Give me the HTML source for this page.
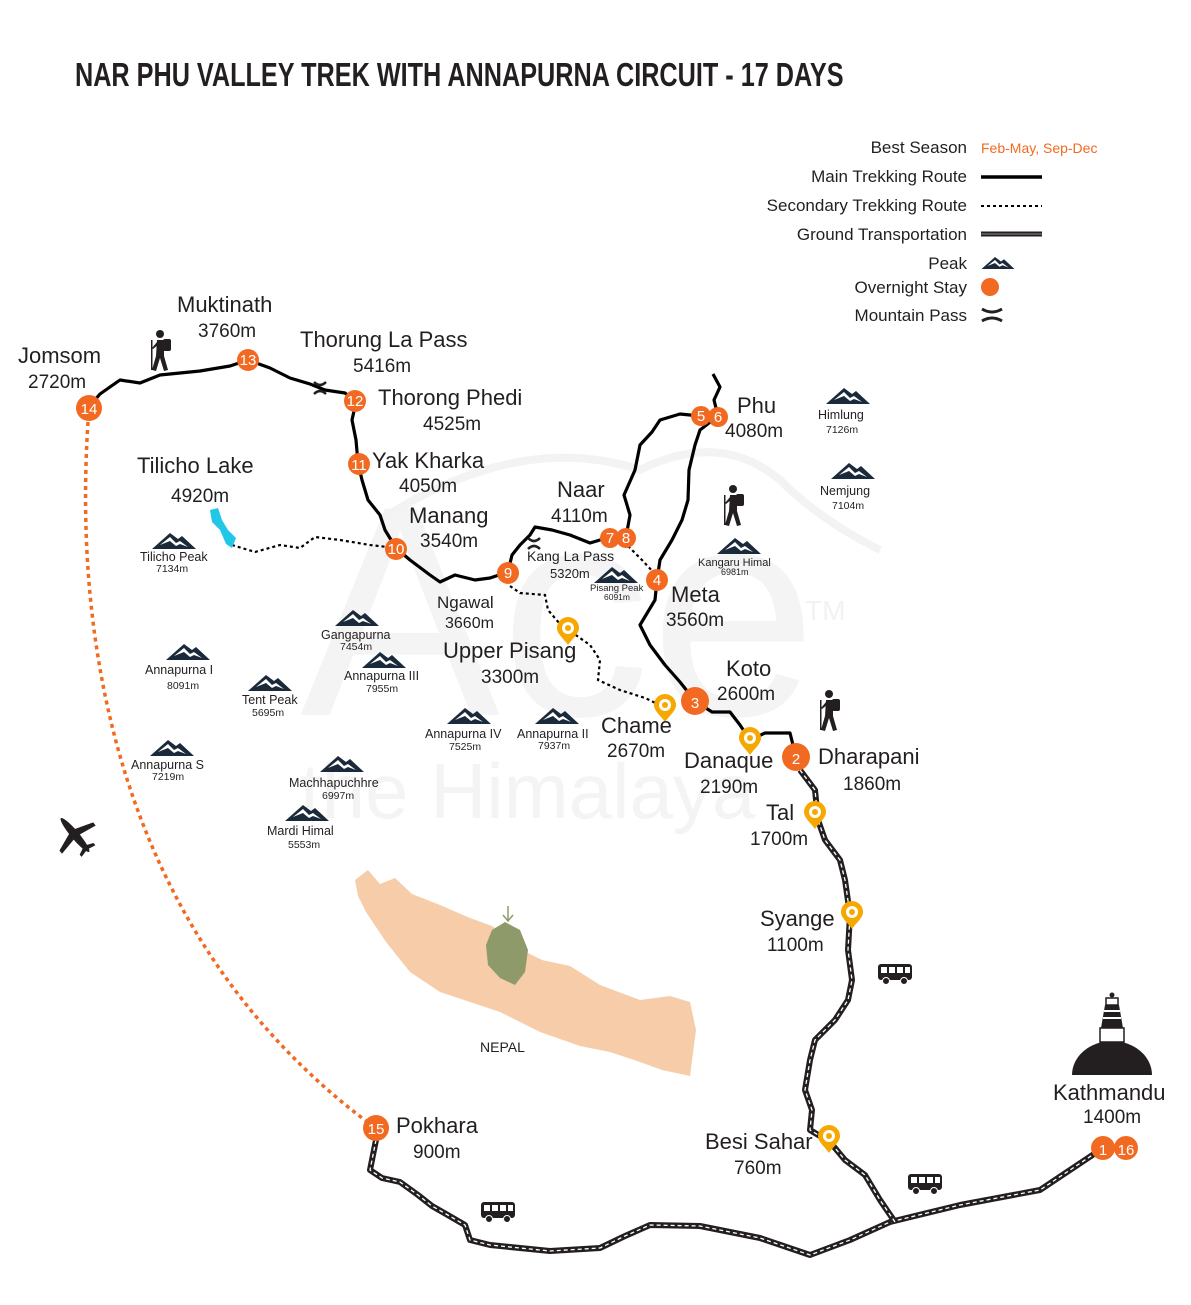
<!DOCTYPE html>
<html><head><meta charset="utf-8"><style>
html,body{margin:0;padding:0;background:#fff;}
svg{display:block;font-family:"Liberation Sans",sans-serif;}
.n{font-size:22px;fill:#231f20;}
.e{font-size:19px;fill:#231f20;}
.pk{font-size:12.5px;fill:#231f20;}
.pe{font-size:10.5px;fill:#231f20;}
.lg{font-size:17px;fill:#231f20;text-anchor:end;}
.mk{font-size:15px;fill:#fff;text-anchor:middle;}
</style></head><body>
<svg width="1191" height="1305" viewBox="0 0 1191 1305" xmlns="http://www.w3.org/2000/svg">
<defs>
<g id="peak"><path d="M-22,8 L-4,-8 L4,-2 L8,-5 L22,8 Z" fill="#1b2a3a"/><path d="M-14,4 L-4,-4 L2,2 L6,0 L14,6 L6,3 L2,5 L-4,0 Z" fill="#fff"/></g>
<g id="bus"><rect x="-17" y="-10" width="34" height="16" rx="3" fill="#231f20"/><rect x="-14" y="-7" width="6" height="6" fill="#fff"/><rect x="-6" y="-7" width="6" height="6" fill="#fff"/><rect x="2" y="-7" width="6" height="6" fill="#fff"/><rect x="10" y="-7" width="5" height="6" fill="#fff"/><circle cx="-9" cy="7" r="3.5" fill="#231f20" stroke="#fff" stroke-width="1"/><circle cx="9" cy="7" r="3.5" fill="#231f20" stroke="#fff" stroke-width="1"/></g>
<g id="hiker" fill="#231f20"><circle cx="0" cy="-16" r="4"/><rect x="3" y="-11" width="8" height="12" rx="2"/><path d="M-3,-10 L4,-10 L4,6 L8,20 L4,21 L0,8 L-4,21 L-8,20 L-4,6 Z"/><rect x="-9" y="-10" width="1.5" height="30"/><path d="M-3,-8 L-8,-2 L-7,-1 L-2,-5Z"/></g>
<g id="pin"><path d="M0,12 C-4,6 -11,1 -11,-5 A11,11 0 0 1 11,-5 C11,1 4,6 0,12Z" fill="#f6a800"/><circle cx="0" cy="-5" r="6" fill="#fff"/><circle cx="0" cy="-5" r="3" fill="#f6a800"/></g>
</defs>

<!-- watermark -->
<text x="300" y="715" font-size="300" fill="#f4f4f4" font-family="Liberation Sans,sans-serif">Ace</text>
<text x="300" y="818" font-size="78" fill="#f4f4f4">the Himalaya</text>
<text x="805" y="620" font-size="28" fill="#f2f2f2">TM</text>
<path d="M380,520 Q520,430 640,470 Q720,430 780,480 Q820,520 880,550" fill="none" stroke="#f3f3f3" stroke-width="8"/>

<!-- title -->
<text x="75" y="86" font-size="33" font-weight="bold" fill="#231f20" transform="translate(75,0) scale(0.765,1) translate(-75,0)">NAR PHU VALLEY TREK WITH ANNAPURNA CIRCUIT - 17 DAYS</text>

<!-- legend -->
<text class="lg" x="967" y="153">Best Season</text>
<text x="981" y="153" font-size="14" fill="#f26a21">Feb-May, Sep-Dec</text>
<text class="lg" x="967" y="182">Main Trekking Route</text>
<line x1="981" y1="177" x2="1042" y2="177" stroke="#000" stroke-width="3.5"/>
<text class="lg" x="967" y="211">Secondary Trekking Route</text>
<line x1="981" y1="206" x2="1042" y2="206" stroke="#000" stroke-width="2" stroke-dasharray="3,3"/>
<text class="lg" x="967" y="240">Ground Transportation</text>
<line x1="981" y1="234" x2="1042" y2="234" stroke="#231f20" stroke-width="5"/>
<line x1="981" y1="234" x2="1042" y2="234" stroke="#888" stroke-width="1"/>
<text class="lg" x="967" y="269">Peak</text>
<use href="#peak" x="998" y="263" transform="translate(998,263) scale(0.75) translate(-998,-263)"/>
<text class="lg" x="967" y="293">Overnight Stay</text>
<circle cx="990" cy="287" r="9" fill="#f26a21"/>
<text class="lg" x="967" y="321">Mountain Pass</text>
<path d="M982,309 Q992,315 1002,309 M982,321 Q992,315 1002,321" stroke="#231f20" stroke-width="3" fill="none"/>

<!-- Nepal map -->
<path d="M355,880 L368,870 L380,884 L395,878 L412,894 L440,905 L470,918 L492,926 L505,935 L522,950 L542,960 L570,966 L600,985 L640,1000 L670,996 L690,1002 L696,1030 L690,1076 L662,1070 L640,1062 L610,1052 L580,1046 L540,1032 L500,1012 L470,1002 L440,992 L410,972 L386,942 L366,912 L358,896 Z" fill="#f6cda8"/>
<path d="M492,930 L505,922 L520,930 L528,950 L525,972 L515,985 L500,978 L488,965 L486,945 Z" fill="#8f9a6a"/>
<path d="M508,906 L508,920 M503,915 L508,921 L513,915" stroke="#8f9a6a" stroke-width="1.5" fill="none"/>
<text x="480" y="1052" font-size="14" fill="#231f20">NEPAL</text>

<!-- flight path -->
<path d="M88,422 C70,700 150,960 370,1124" fill="none" stroke="#f26a21" stroke-width="3.5" stroke-dasharray="4,4"/>

<!-- roads -->
<g fill="none" stroke-linejoin="round">
<path d="M376,1140 L372,1160 L370,1170 L382,1178 L400,1182 L418,1195 L432,1206 L446,1214 L465,1225 L470,1240 L490,1245 L550,1251 L600,1248 L625,1236 L650,1225 L700,1226 L760,1238 L810,1255 L850,1240 L890,1222 L960,1205 L1040,1190 L1070,1170 L1100,1150" stroke="#231f20" stroke-width="6"/>
<path d="M376,1140 L372,1160 L370,1170 L382,1178 L400,1182 L418,1195 L432,1206 L446,1214 L465,1225 L470,1240 L490,1245 L550,1251 L600,1248 L625,1236 L650,1225 L700,1226 L760,1238 L810,1255 L850,1240 L890,1222 L960,1205 L1040,1190 L1070,1170 L1100,1150" stroke="#fff" stroke-width="1.3" stroke-dasharray="4,3"/>
<path d="M800,770 L815,790 L818,820 L825,840 L840,860 L845,880 L850,915 L848,950 L852,980 L848,1000 L835,1020 L815,1040 L810,1060 L805,1090 L812,1110 L810,1130 L830,1142 L845,1160 L865,1175 L880,1200 L895,1222" stroke="#231f20" stroke-width="6"/>
<path d="M800,770 L815,790 L818,820 L825,840 L840,860 L845,880 L850,915 L848,950 L852,980 L848,1000 L835,1020 L815,1040 L810,1060 L805,1090 L812,1110 L810,1130 L830,1142 L845,1160 L865,1175 L880,1200 L895,1222" stroke="#fff" stroke-width="1.3" stroke-dasharray="4,3"/>
</g>

<!-- secondary -->
<g fill="none" stroke="#000" stroke-width="2.2" stroke-dasharray="3,3">
<path d="M232,545 L255,552 L280,545 L300,548 L315,537 L340,540 L370,545 L396,548"/>
<path d="M628,546 L642,560 L655,574"/>
<path d="M510,586 L520,593 L545,595 L548,610 L560,624 L590,645 L600,660 L598,680 L620,690 L645,698 L662,706"/>
</g>

<!-- main route -->
<g fill="none" stroke="#000" stroke-width="3.2" stroke-linejoin="round">
<path d="M88,408 L100,394 L120,380 L140,383 L160,375 L200,371 L230,366 L248,360 L270,368 L290,378 L310,384 L325,390 L345,393 L356,402 L352,420 L356,440 L358,463 L362,480 L368,500 L380,515 L385,530 L396,548 L410,560 L430,575 L440,582 L455,575 L475,580 L490,578 L508,572 L512,555 L520,545 L530,535 L535,527 L552,530 L570,535 L590,543 L610,537 L626,537 L630,515 L624,495 L635,470 L640,445 L652,432 L660,420 L680,414 L700,416"/>
<path d="M718,416 L714,400 L720,387 L713,374"/>
<path d="M657,580 L660,560 L672,540 L682,520 L688,500 L689,470 L695,445 L700,430 L718,416"/>
<path d="M657,580 L655,600 L640,625 L650,645 L665,665 L680,682 L695,701 L712,712 L730,712 L740,725 L750,740 L765,733 L790,733 L796,757"/>
</g>

<!-- Tilicho lake -->
<path d="M210,510 L218,508 L222,520 L228,530 L236,538 L232,548 L226,544 L220,530 L212,522 Z" fill="#22c7e8"/>

<!-- passes -->
<path d="M314,382 Q320,388 326,382 M314,394 Q320,388 326,394" stroke="#231f20" stroke-width="2.5" fill="none"/>
<path d="M528,538 Q534,544 540,538 M528,549 Q534,543 540,549" stroke="#231f20" stroke-width="2.5" fill="none"/>

<!-- peaks -->
<use href="#peak" x="174" y="541"/>
<use href="#peak" x="357" y="618"/>
<use href="#peak" x="188" y="652"/>
<use href="#peak" x="384" y="660"/>
<use href="#peak" x="270" y="683"/>
<use href="#peak" x="469" y="716"/>
<use href="#peak" x="557" y="716"/>
<use href="#peak" x="172" y="748"/>
<use href="#peak" x="342" y="764"/>
<use href="#peak" x="307" y="813"/>
<use href="#peak" x="616" y="575"/>
<use href="#peak" x="739" y="546"/>
<use href="#peak" x="848" y="396"/>
<use href="#peak" x="853" y="471"/>

<text class="pk" x="140" y="561">Tilicho Peak</text><text class="pe" x="156" y="572">7134m</text>
<text class="pk" x="321" y="639">Gangapurna</text><text class="pe" x="340" y="650">7454m</text>
<text class="pk" x="145" y="674">Annapurna I</text><text class="pe" x="167" y="689">8091m</text>
<text class="pk" x="344" y="680">Annapurna III</text><text class="pe" x="366" y="692">7955m</text>
<text class="pk" x="242" y="704">Tent Peak</text><text class="pe" x="252" y="716">5695m</text>
<text class="pk" x="425" y="738">Annapurna IV</text><text class="pe" x="449" y="750">7525m</text>
<text class="pk" x="517" y="738">Annapurna II</text><text class="pe" x="538" y="749">7937m</text>
<text class="pk" x="131" y="769">Annapurna S</text><text class="pe" x="152" y="780">7219m</text>
<text class="pk" x="289" y="787">Machhapuchhre</text><text class="pe" x="322" y="799">6997m</text>
<text class="pk" x="267" y="835">Mardi Himal</text><text class="pe" x="288" y="848">5553m</text>
<text x="590" y="591" font-size="9.5" fill="#231f20">Pisang Peak</text><text x="604" y="600" font-size="8.5" fill="#231f20">6091m</text>
<text x="698" y="566" font-size="11" fill="#231f20">Kangaru Himal</text><text x="721" y="575" font-size="9" fill="#231f20">6981m</text>
<text class="pk" x="818" y="419">Himlung</text><text class="pe" x="826" y="433">7126m</text>
<text class="pk" x="820" y="495">Nemjung</text><text class="pe" x="832" y="509">7104m</text>

<!-- hikers, bus, plane, stupa -->
<use href="#hiker" x="160" y="350"/>
<use href="#hiker" x="733" y="505"/>
<use href="#hiker" x="829" y="710"/>
<use href="#bus" x="895" y="974"/>
<use href="#bus" x="925" y="1184"/>
<use href="#bus" x="498" y="1212"/>
<g transform="translate(75,835) rotate(-40)" fill="#231f20"><ellipse cx="0" cy="0" rx="4" ry="22"/><path d="M-22,2 L0,-6 L22,2 L22,6 L0,2 L-22,6Z"/><path d="M-9,18 L0,14 L9,18 L9,21 L0,19 L-9,21Z"/></g>
<g fill="#231f20">
<path d="M1072,1075 A40,34 0 0 1 1152,1075 Z"/>
<rect x="1100" y="1028" width="24" height="14" fill="#fff" stroke="#231f20" stroke-width="1.5"/>
<path d="M1101,1028 L1105,1005 L1119,1005 L1123,1028Z"/>
<rect x="1104" y="1010" width="16" height="2" fill="#fff"/><rect x="1103" y="1017" width="18" height="2" fill="#fff"/>
<rect x="1106" y="998" width="12" height="7" fill="#fff" stroke="#231f20" stroke-width="1.5"/>
<circle cx="1112" cy="995" r="2.5"/>
</g>

<!-- pins -->
<use href="#pin" x="568" y="633"/>
<use href="#pin" x="665" y="710"/>
<use href="#pin" x="750" y="743"/>
<use href="#pin" x="815" y="817"/>
<use href="#pin" x="852" y="917"/>
<use href="#pin" x="829" y="1141"/>

<!-- markers -->
<g fill="#f26a21">
<circle cx="89" cy="408" r="13"/><circle cx="248" cy="360" r="11"/><circle cx="355" cy="401" r="11"/><circle cx="359" cy="464" r="11"/><circle cx="396" cy="549" r="11"/><circle cx="508" cy="573" r="11"/><circle cx="610" cy="538" r="10"/><circle cx="626" cy="538" r="10"/><circle cx="701" cy="416" r="10"/><circle cx="718" cy="417" r="10"/><circle cx="657" cy="580" r="11"/><circle cx="695" cy="701" r="14"/><circle cx="796" cy="757" r="14"/><circle cx="376" cy="1128" r="13"/><circle cx="1103" cy="1148" r="12"/><circle cx="1126" cy="1148" r="12"/>
</g>
<g class="mk">
<text class="mk" x="89" y="414" font-size="17">14</text><text class="mk" x="248" y="365">13</text><text class="mk" x="355" y="406">12</text><text class="mk" x="359" y="470">11</text><text class="mk" x="396" y="554">10</text><text class="mk" x="508" y="578">9</text><text class="mk" x="610" y="543">7</text><text class="mk" x="626" y="543">8</text><text class="mk" x="701" y="421">5</text><text class="mk" x="718" y="422">6</text><text class="mk" x="657" y="585">4</text><text class="mk" x="695" y="708" font-size="20">3</text><text class="mk" x="796" y="764" font-size="20">2</text><text class="mk" x="376" y="1134" font-size="17">15</text><text class="mk" x="1103" y="1155" font-size="18">1</text><text class="mk" x="1126" y="1155" font-size="18">16</text>
</g>

<!-- place labels -->
<text class="n" x="18" y="363">Jomsom</text><text class="e" x="28" y="388">2720m</text>
<text class="n" x="177" y="312">Muktinath</text><text class="e" x="198" y="337">3760m</text>
<text class="n" x="300" y="347">Thorung La Pass</text><text class="e" x="353" y="372">5416m</text>
<text class="n" x="378" y="405">Thorong Phedi</text><text class="e" x="423" y="430">4525m</text>
<text class="n" x="372" y="468">Yak Kharka</text><text class="e" x="399" y="492">4050m</text>
<text class="n" x="137" y="473" font-size="24">Tilicho Lake</text><text class="e" x="171" y="502" font-size="21">4920m</text>
<text class="n" x="409" y="523">Manang</text><text class="e" x="420" y="547">3540m</text>
<text x="437" y="608" font-size="17" fill="#231f20">Ngawal</text><text x="445" y="628" font-size="16" fill="#231f20">3660m</text>
<text x="527" y="561" font-size="14" fill="#231f20">Kang La Pass</text><text x="550" y="578" font-size="13" fill="#231f20">5320m</text>
<text class="n" x="557" y="497">Naar</text><text class="e" x="551" y="522">4110m</text>
<text class="n" x="737" y="413">Phu</text><text class="e" x="725" y="437">4080m</text>
<text class="n" x="671" y="602">Meta</text><text class="e" x="666" y="626">3560m</text>
<text class="n" x="443" y="658">Upper Pisang</text><text class="e" x="481" y="683">3300m</text>
<text class="n" x="726" y="676">Koto</text><text class="e" x="717" y="700">2600m</text>
<text class="n" x="601" y="733">Chame</text><text class="e" x="607" y="757">2670m</text>
<text class="n" x="684" y="768">Danaque</text><text class="e" x="700" y="793">2190m</text>
<text class="n" x="818" y="764">Dharapani</text><text class="e" x="843" y="790">1860m</text>
<text class="n" x="766" y="820">Tal</text><text class="e" x="750" y="845">1700m</text>
<text class="n" x="760" y="926">Syange</text><text class="e" x="767" y="951">1100m</text>
<text class="n" x="396" y="1133">Pokhara</text><text class="e" x="413" y="1158">900m</text>
<text class="n" x="705" y="1149">Besi Sahar</text><text class="e" x="734" y="1174">760m</text>
<text class="n" x="1053" y="1100">Kathmandu</text><text class="e" x="1083" y="1123">1400m</text>
</svg>
</body></html>
